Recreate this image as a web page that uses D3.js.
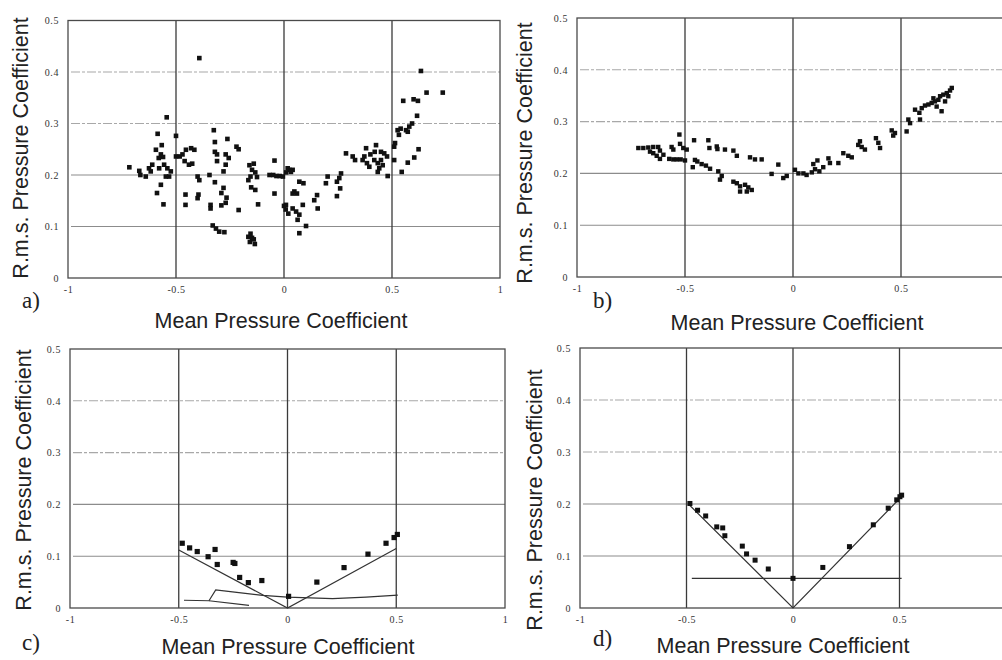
<!DOCTYPE html>
<html>
<head>
<meta charset="utf-8">
<script src="https://cdn.jsdelivr.net/npm/d3@7"></script>
<style>
  body { margin: 0; background: #fff; }
</style>
</head>
<body>
<script>
// tick values shared by all four panels
var xTicks = [-1, -0.5, 0, 0.5, 1];
var yTicks = [0, 0.1, 0.2, 0.3, 0.4, 0.5];
var xGrid = [-0.5, 0, 0.5];
var yGrid = [0.1, 0.2, 0.3, 0.4];

// a) measured points [mean Cp, rms Cp]
var pointsA = [
  [-0.716,0.215],[-0.67,0.208],[-0.665,0.2],[-0.64,0.197],[-0.625,0.213],[-0.61,0.22],[-0.617,0.207],
  [-0.585,0.28],[-0.543,0.312],[-0.5,0.276],[-0.566,0.258],[-0.593,0.249],[-0.57,0.24],[-0.56,0.235],[-0.58,0.233],
  [-0.578,0.213],[-0.555,0.22],[-0.54,0.213],[-0.524,0.207],[-0.532,0.197],[-0.547,0.197],
  [-0.57,0.181],[-0.588,0.165],[-0.558,0.143],
  [-0.43,0.252],[-0.415,0.249],[-0.454,0.249],[-0.47,0.24],[-0.483,0.236],[-0.5,0.236],
  [-0.46,0.227],[-0.44,0.22],[-0.425,0.222],
  [-0.456,0.162],[-0.456,0.142],[-0.4,0.197],[-0.392,0.19],[-0.396,0.162],[-0.4,0.155],
  [-0.392,0.427],
  [-0.345,0.2],[-0.34,0.142],[-0.34,0.135],
  [-0.325,0.287],[-0.32,0.264],[-0.32,0.245],[-0.31,0.24],[-0.31,0.227],
  [-0.262,0.27],[-0.27,0.24],[-0.256,0.233],[-0.27,0.22],[-0.22,0.255],[-0.21,0.25],
  [-0.28,0.207],[-0.32,0.186],[-0.28,0.175],[-0.29,0.165],[-0.266,0.156],[-0.27,0.146],[-0.29,0.141],
  [-0.21,0.132],
  [-0.33,0.102],[-0.315,0.096],[-0.3,0.09],[-0.276,0.089],
  [-0.16,0.219],[-0.14,0.222],[-0.133,0.205],[-0.155,0.197],[-0.125,0.196],[-0.148,0.21],
  [-0.165,0.19],[-0.152,0.176],[-0.133,0.171],[-0.12,0.143],
  [-0.165,0.08],[-0.155,0.086],[-0.148,0.078],[-0.158,0.07],[-0.14,0.075],[-0.135,0.066],
  [-0.044,0.228],[-0.044,0.164],
  [-0.067,0.2],[-0.05,0.2],[-0.035,0.198],[-0.02,0.198],[-0.005,0.197],[0.01,0.205],[0.025,0.21],[0.04,0.21],
  [0.017,0.213],[0.032,0.206],
  [0.071,0.187],[0.09,0.184],[0.048,0.168],[0.06,0.164],[0.04,0.164],
  [0.008,0.133],[0.0,0.14],[0.009,0.142],[0.04,0.135],[0.056,0.129],[0.071,0.123],[0.063,0.113],
  [0.087,0.142],[0.102,0.101],[0.071,0.087],[0.02,0.125],
  [0.153,0.161],[0.14,0.151],[0.156,0.135],
  [0.202,0.197],[0.194,0.184],
  [0.264,0.203],[0.256,0.194],[0.245,0.187],[0.26,0.174],[0.245,0.159],
  [0.287,0.242],[0.318,0.236],[0.329,0.229],
  [0.38,0.252],[0.426,0.258],[0.449,0.245],[0.464,0.242],[0.477,0.236],[0.372,0.236],[0.364,0.229],
  [0.384,0.223],[0.395,0.216],[0.418,0.229],[0.434,0.223],[0.441,0.213],[0.434,0.206],[0.449,0.229],
  [0.457,0.219],[0.4,0.24],[0.42,0.245],
  [0.48,0.198],[0.51,0.229],[0.514,0.262],[0.51,0.255],
  [0.545,0.206],[0.573,0.224],[0.603,0.234],[0.623,0.25],
  [0.593,0.3],[0.58,0.294],[0.565,0.287],[0.54,0.29],[0.526,0.287],[0.532,0.278],[0.573,0.284],
  [0.616,0.315],[0.552,0.344],[0.6,0.347],[0.62,0.344],
  [0.634,0.402],[0.66,0.36],[0.735,0.36]
];

// b) measured points
var pointsB = [
  [-0.716,0.249],[-0.693,0.249],[-0.67,0.25],[-0.647,0.251],[-0.624,0.251],[-0.616,0.244],[-0.647,0.239],
  [-0.631,0.234],[-0.616,0.228],[-0.662,0.242],[-0.6,0.236],
  [-0.526,0.275],[-0.562,0.251],[-0.554,0.246],[-0.523,0.257],[-0.508,0.249],[-0.492,0.246],
  [-0.573,0.228],[-0.554,0.227],[-0.538,0.227],[-0.52,0.227],[-0.5,0.225],
  [-0.458,0.264],[-0.454,0.226],[-0.464,0.212],[-0.443,0.223],
  [-0.423,0.218],[-0.403,0.215],[-0.384,0.209],
  [-0.392,0.264],[-0.387,0.249],[-0.353,0.252],[-0.35,0.247],[-0.315,0.246],[-0.276,0.244],[-0.26,0.234],
  [-0.346,0.204],[-0.33,0.195],[-0.338,0.188],
  [-0.276,0.184],[-0.26,0.181],[-0.245,0.175],[-0.222,0.178],[-0.207,0.173],[-0.191,0.168],[-0.245,0.165],[-0.214,0.165],
  [-0.199,0.231],[-0.176,0.227],[-0.145,0.227],
  [-0.099,0.199],[-0.068,0.217],[-0.045,0.191],[-0.029,0.195],
  [0.009,0.207],[0.025,0.2],[0.048,0.2],[0.063,0.197],
  [0.087,0.202],[0.102,0.208],[0.122,0.204],[0.094,0.218],[0.113,0.225],[0.164,0.229],[0.171,0.22],[0.14,0.212],[0.21,0.22],
  [0.233,0.239],[0.256,0.234],[0.272,0.231],
  [0.31,0.262],[0.318,0.251],[0.333,0.246],[0.302,0.255],
  [0.384,0.268],[0.395,0.259],[0.403,0.249],
  [0.457,0.283],[0.472,0.278],[0.464,0.273],
  [0.526,0.281],[0.534,0.304],[0.542,0.297],
  [0.565,0.323],[0.588,0.304],[0.585,0.317],[0.596,0.326],[0.611,0.331],[0.627,0.333],[0.642,0.336],
  [0.657,0.339],[0.673,0.342],[0.681,0.349],[0.696,0.352],[0.712,0.355],[0.727,0.36],[0.735,0.365],
  [0.688,0.32],[0.665,0.329],[0.65,0.345],[0.704,0.339],[0.719,0.349]
];

// c) measured points and model curves
var pointsC = [
  [-0.484,0.125],[-0.45,0.116],[-0.415,0.109],[-0.365,0.099],[-0.333,0.113],[-0.323,0.084],
  [-0.25,0.088],[-0.242,0.086],[-0.22,0.059],[-0.18,0.049],[-0.118,0.053],[0.005,0.0225],
  [0.135,0.05],[0.26,0.078],[0.37,0.104],[0.453,0.125],[0.49,0.136],[0.505,0.142]
];
var lineC1 = [[-0.5,0.112],[0,0],[0.5,0.115]];
var lineC2 = [[-0.476,0.015],[-0.361,0.014],[-0.33,0.035],[-0.253,0.031],[-0.115,0.0245],[0,0.021],
  [0.207,0.018],[0.361,0.021],[0.507,0.025]];
var lineC3 = [[-0.361,0.014],[-0.177,0.005]];

// d) measured points and model curves
var pointsD = [
  [-0.484,0.201],[-0.448,0.188],[-0.41,0.177],[-0.358,0.156],[-0.33,0.154],[-0.32,0.139],
  [-0.238,0.119],[-0.218,0.104],[-0.178,0.092],[-0.116,0.075],[0.0,0.057],[0.14,0.078],
  [0.265,0.118],[0.377,0.16],[0.447,0.192],[0.487,0.208],[0.502,0.214],[0.51,0.217]
];
var lineD1 = [[-0.491,0.2],[0,0],[0.502,0.211]];
var lineD2 = [[-0.475,0.057],[0.51,0.057]];

var W = 1002, H = 660;

var svg = d3.select("body")
  .append("svg")
  .attr("width", W)
  .attr("height", H);

svg.append("rect")
  .attr("width", W)
  .attr("height", H)
  .attr("fill", "#fff");

// layout of each panel on the page
var panels = [
  { points: pointsA, lines: [], size: 4.6, left: 68, right: 500, top: 20.5, bottom: 278,
    label: "a)", lx: 22, ly: 308, ytx: 21, yty: 148, xtx: 281, xty: 328 },
  { points: pointsB, lines: [], size: 4.4, left: 577, right: 1009, top: 18, bottom: 277,
    label: "b)", lx: 593, ly: 308, ytx: 525, yty: 153, xtx: 797, xty: 330 },
  { points: pointsC, lines: [lineC1, lineC2, lineC3], size: 5.2, left: 70, right: 505, top: 349, bottom: 608,
    label: "c)", lx: 22, ly: 650, ytx: 24, yty: 480, xtx: 288, xty: 654 },
  { points: pointsD, lines: [lineD1, lineD2], size: 5.0, left: 580, right: 1006, top: 348, bottom: 608,
    label: "d)", lx: 593, ly: 646, ytx: 535, yty: 500, xtx: 783, xty: 653 }
];

function fmt(d) {
  if (d === 0) return "0";
  return (d < 0 ? "-" : "") + Math.abs(d);
}

panels.forEach(function (p) {
  var x = d3.scaleLinear().domain([-1, 1]).range([p.left, p.right]);
  var y = d3.scaleLinear().domain([0, 0.5]).range([p.bottom, p.top]);
  var g = svg.append("g");

  // horizontal grid lines (light, scanned look)
  g.selectAll(".hg")
    .data(yGrid)
    .enter()
    .append("line")
    .attr("x1", x(-1) + 3)
    .attr("x2", x(1))
    .attr("y1", function (d) { return y(d); })
    .attr("y2", function (d) { return y(d); })
    .attr("stroke", function (d) { return d >= 0.3 ? "#a8a8a8" : "#8c8c8c"; })
    .attr("stroke-width", 1.1)
    .attr("stroke-dasharray", function (d) { return d >= 0.3 ? "9,2,3,2" : null; });

  // vertical grid lines (dark)
  g.selectAll(".vg")
    .data(xGrid)
    .enter()
    .append("line")
    .attr("x1", function (d) { return x(d); })
    .attr("x2", function (d) { return x(d); })
    .attr("y1", y(0.5))
    .attr("y2", y(0))
    .attr("stroke", "#3a3a3a")
    .attr("stroke-width", 1.3);

  // frame
  g.append("rect")
    .attr("x", x(-1))
    .attr("y", y(0.5))
    .attr("width", x(1) - x(-1))
    .attr("height", y(0) - y(0.5))
    .attr("fill", "none")
    .attr("stroke", "#4a4a4a")
    .attr("stroke-width", 1.3);

  // axes, only the labels (the right panels' "1" falls off the page)
  var shownX = xTicks.filter(function (d) { return x(d) < W - 6; });
  var ax = g.append("g")
    .attr("transform", "translate(0," + p.bottom + ")")
    .call(d3.axisBottom(x).tickValues(shownX).tickSize(0).tickPadding(8).tickFormat(fmt));
  var ay = g.append("g")
    .attr("transform", "translate(" + p.left + ",0)")
    .call(d3.axisLeft(y).tickValues(yTicks).tickSize(0).tickPadding(9).tickFormat(fmt));
  [ax, ay].forEach(function (a) {
    a.select(".domain").remove();
    a.selectAll("text")
      .style("font-family", "'Liberation Serif', 'DejaVu Serif', serif")
      .style("font-size", "10px")
      .style("letter-spacing", "0.6px")
      .attr("fill", "#333");
  });

  // model lines
  var line = d3.line()
    .x(function (d) { return x(d[0]); })
    .y(function (d) { return y(d[1]); });
  g.selectAll(".ml")
    .data(p.lines)
    .enter()
    .append("path")
    .attr("d", line)
    .attr("fill", "none")
    .attr("stroke", "#333")
    .attr("stroke-width", 1.2);

  // data squares
  g.selectAll(".pt")
    .data(p.points)
    .enter()
    .append("rect")
    .attr("x", function (d) { return x(d[0]) - p.size / 2; })
    .attr("y", function (d) { return y(d[1]) - p.size / 2; })
    .attr("width", p.size)
    .attr("height", p.size)
    .attr("fill", "#111");

  // axis titles
  g.append("text")
    .attr("transform", "translate(" + p.ytx + "," + p.yty + ") rotate(-90)")
    .attr("text-anchor", "middle")
    .attr("dominant-baseline", "central")
    .style("font-family", "'Liberation Sans', Arial, sans-serif")
    .style("font-size", "21.5px")
    .attr("fill", "#222")
    .text("R.m.s. Pressure Coefficient");

  g.append("text")
    .attr("x", p.xtx)
    .attr("y", p.xty)
    .attr("text-anchor", "middle")
    .style("font-family", "'Liberation Sans', Arial, sans-serif")
    .style("font-size", "21.5px")
    .attr("fill", "#222")
    .text("Mean Pressure Coefficient");

  // panel letter
  g.append("text")
    .attr("x", p.lx)
    .attr("y", p.ly)
    .style("font-family", "'Liberation Serif', 'DejaVu Serif', serif")
    .style("font-size", "23px")
    .attr("fill", "#222")
    .text(p.label);
});
</script>
</body>
</html>
